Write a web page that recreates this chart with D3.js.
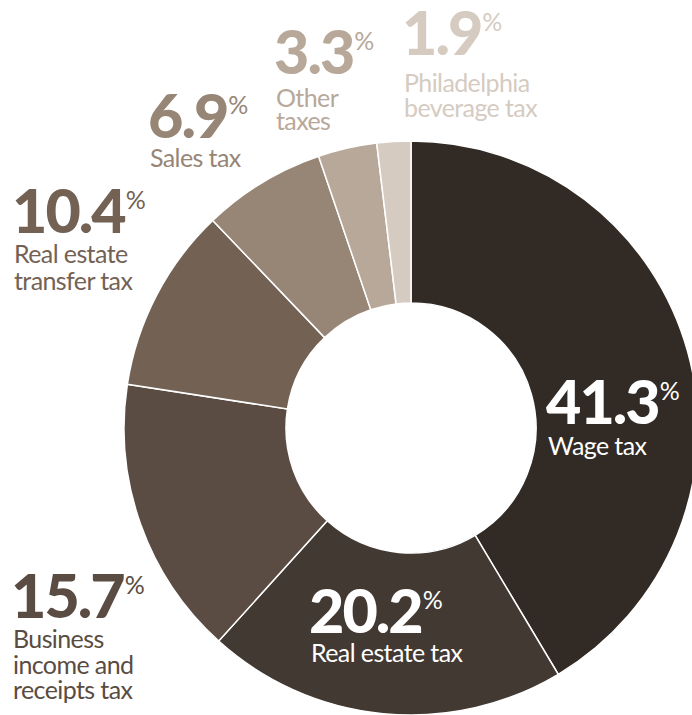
<!DOCTYPE html>
<html>
<head>
<meta charset="utf-8">
<script src="https://cdn.jsdelivr.net/npm/d3@7"></script>
<style>
  body { margin: 0; background: #fff; }
  svg text { font-family: Lato, "Open Sans", sans-serif; }
</style>
</head>
<body>
<div class="canva"></div>
<script>
const width = 692
const height = 715

// data
const categories = ["Wage tax", "Real estate tax", "Business income and receipts tax",
  "Real estate transfer tax", "Sales tax", "Other taxes", "Philadelphia beverage tax"]
const shares = [41.3, 20.2, 15.7, 10.4, 6.9, 3.3, 1.9]
const labelLines = [
  ["Wage tax"],
  ["Real estate tax"],
  ["Business", "income and", "receipts tax"],
  ["Real estate", "transfer tax"],
  ["Sales tax"],
  ["Other", "taxes"],
  ["Philadelphia", "beverage tax"]
]

// layout
const colors = ["#322a24", "#433933", "#5a4c42", "#736254", "#978676", "#b8a899", "#d5cbc1"]
const textColors = ["#fff", "#fff", "#5a4c42", "#736254", "#978676", "#b8a899", "#d5cbc1"]
// left x and number baseline of each label
const labelPos = [[546, 424], [309, 633], [11, 618], [12, 233], [148, 138], [274, 74], [402, 55]]
const lineGap = [[31], [29], [30, 26, 25], [30, 27], [29], [33, 23], [37, 25]]

const cx = 411, cy = 428
const outerR = 287, innerR = 125

const svg = d3.select(".canva").append("svg").attr("width", width).attr("height", height)

const pie = d3.pie().sort(null).value(d => d.value)
const arc = d3.arc().innerRadius(innerR).outerRadius(outerR)

const data = categories.map((c, i) => ({ name: c, value: shares[i], i }))

svg.append("g")
  .attr("transform", `translate(${cx},${cy})`)
  .selectAll("path")
  .data(pie(data))
  .enter()
  .append("path")
  .attr("d", arc)
  .attr("fill", d => colors[d.data.i])
  .attr("stroke", "#fff")
  .attr("stroke-width", 1.5)

const labels = svg.append("g").selectAll("text")
  .data(data)
  .enter()
  .append("text")
  .attr("x", d => labelPos[d.i][0])
  .attr("y", d => labelPos[d.i][1])
  .attr("fill", d => textColors[d.i])

labels.append("tspan")
  .attr("font-size", 61)
  .attr("font-weight", 900)
  .attr("letter-spacing", -2)
  .text(d => d3.format(".1f")(d.value))

labels.append("tspan")
  .attr("font-size", 25)
  .attr("font-weight", 400)
  .attr("dx", 1)
  .attr("dy", -24)
  .text("%")

labels.each(function (d) {
  const t = d3.select(this)
  let y = labelPos[d.i][1]
  labelLines[d.i].forEach((line, k) => {
    y += lineGap[d.i][k]
    t.append("tspan")
      .attr("x", labelPos[d.i][0] + 2)
      .attr("y", y)
      .attr("font-size", 25)
      .attr("font-weight", 400)
      .attr("letter-spacing", -0.6)
      .text(line)
  })
})
</script>
</body>
</html>
